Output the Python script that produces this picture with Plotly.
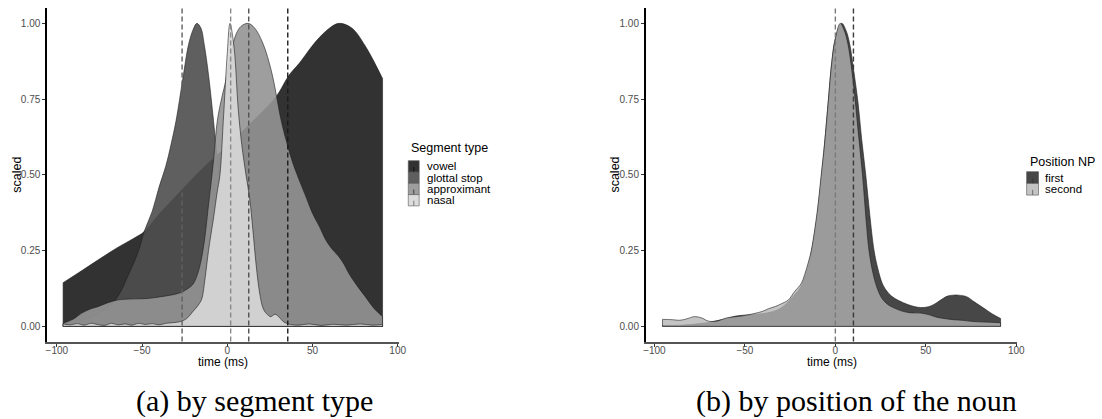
import plotly.graph_objects as go

W, H = 1102, 419

# ---------------- data: panel (a) by segment type ----------------
seg_types = ["vowel", "glottal stop", "approximant", "nasal"]

vowel_t = [-96.3, -85, -75, -65, -55, -48.8, -40, -30, -20, -10, 0, 10, 20, 28.7,
           36.4, 42.2, 51.9, 59.7, 65.5, 73, 81, 91.1]
vowel_y = [0.144, 0.185, 0.222, 0.258, 0.29, 0.312, 0.37, 0.43, 0.49, 0.545, 0.595,
           0.65, 0.705, 0.758, 0.83, 0.868, 0.94, 0.983, 1.0, 0.985, 0.925, 0.818]

glottal_t = [-96.3, -88, -80, -72, -64.3, -58, -52, -48.8, -44, -40, -36, -33, -30,
             -26, -22.7, -20, -17.8, -15.5, -13.5, -11, -8.1, -5, -2, 1, 4, 8, 12,
             20, 35, 55, 75, 91.1]
glottal_y = [0.004, 0.015, 0.03, 0.055, 0.098, 0.17, 0.25, 0.312, 0.38, 0.46, 0.53,
             0.6, 0.68, 0.82, 0.93, 0.98, 1.0, 0.985, 0.93, 0.83, 0.68, 0.5, 0.35,
             0.23, 0.14, 0.065, 0.03, 0.012, 0.005, 0.004, 0.004, 0.003]

approx_t = [-96.3, -90, -85.6, -80, -75.9, -70, -64.3, -58, -52, -46.9, -40, -33.3,
            -28, -23, -20, -17, -14, -11, -8, -5.8, -3, -1.3, 1, 3.5, 5.4, 8, 12.2,
            16, 20.9, 26, 31.6, 34.5, 38.4, 42.2, 46, 50, 54, 57.8, 61.5, 65.5, 68.5,
            71.3, 76, 81, 86, 91.1]
approx_y = [0.01, 0.025, 0.043, 0.058, 0.065, 0.078, 0.087, 0.09, 0.091, 0.092, 0.097,
            0.103, 0.11, 0.125, 0.14, 0.18, 0.26, 0.4, 0.55, 0.68, 0.76, 0.8, 0.87,
            0.934, 0.967, 0.99, 1.0, 0.985, 0.934, 0.84, 0.68, 0.615, 0.54, 0.483,
            0.43, 0.373, 0.33, 0.285, 0.255, 0.23, 0.205, 0.175, 0.135, 0.098, 0.06,
            0.032]

nasal_t = [-96.3, -92, -88, -84, -80, -76, -72, -68, -64, -60, -56, -52, -48, -44,
           -40, -36, -32, -28, -24, -20, -17, -15, -13, -11, -8, -6, -4.3, -2.3, 0,
           1.6, 4, 6.4, 8.5, 11, 13.2, 15, 17, 19, 21, 23, 25.5, 28, 30.5, 33, 37,
           42, 48, 55, 62, 70, 78, 85, 91.1]
nasal_y = [0.008, 0.005, 0.009, 0.004, 0.01, 0.006, 0.003, 0.01, 0.005, 0.008, 0.004,
           0.01, 0.006, 0.009, 0.005, 0.01, 0.012, 0.015, 0.025, 0.05, 0.07, 0.09,
           0.16, 0.25, 0.36, 0.44, 0.5, 0.68, 0.9, 1.0, 0.92, 0.72, 0.6, 0.5, 0.42,
           0.32, 0.2, 0.11, 0.06, 0.042, 0.032, 0.04, 0.03, 0.015, 0.006, 0.004,
           0.008, 0.003, 0.007, 0.004, 0.008, 0.004, 0.006]

seg_vlines = [35.5, -26.5, 12.6, 2.0]   # vowel, glottal stop, approximant, nasal

# ---------------- data: panel (b) by position of the noun ----------------
positions = ["first", "second"]

first_t = [-95.5, -90, -85, -80, -75, -70, -66, -60, -55, -50, -45, -40, -35, -31,
           -27, -24, -21, -18.8, -16, -13.3, -10, -7.8, -6, -3.8, -2, 0, 3.5, 6, 8,
           10, 12.5, 14.5, 16.8, 19, 21.4, 23.5, 25.9, 28, 31, 35, 40, 44, 47, 50,
           53, 56, 59, 62, 65.2, 68, 72.5, 77, 83.5, 87, 91.3]
first_y = [0.003, 0.003, 0.004, 0.006, 0.009, 0.013, 0.018, 0.026, 0.034, 0.037,
           0.039, 0.042, 0.048, 0.057, 0.075, 0.095, 0.115, 0.135, 0.18, 0.245, 0.37,
           0.49, 0.6, 0.75, 0.87, 0.95, 1.0, 0.975, 0.93, 0.85, 0.74, 0.62, 0.5,
           0.37, 0.25, 0.19, 0.142, 0.12, 0.1, 0.085, 0.072, 0.065, 0.062, 0.063,
           0.068, 0.078, 0.09, 0.1, 0.103, 0.103, 0.098, 0.08, 0.054, 0.04, 0.026]

second_t = [-95.5, -90, -86, -82, -78, -74, -70, -65, -60, -55, -52, -45, -40, -37,
            -33, -30, -26, -22.5, -18.8, -17, -15, -13.3, -10, -7.8, -6, -3.8, -2, 0,
            2.7, 5, 7, 10, 12.5, 15, 17, 18.6, 21, 23.5, 26, 29, 32, 36, 41, 47, 52,
            56, 61, 65, 70, 76, 83, 91.3]
second_y = [0.023, 0.022, 0.02, 0.025, 0.032, 0.028, 0.017, 0.018, 0.028, 0.032,
            0.034, 0.042, 0.05, 0.058, 0.066, 0.074, 0.087, 0.115, 0.142, 0.17, 0.21,
            0.25, 0.38, 0.5, 0.6, 0.75, 0.87, 0.95, 1.0, 0.975, 0.93, 0.8, 0.65, 0.5,
            0.35, 0.25, 0.17, 0.12, 0.09, 0.072, 0.062, 0.052, 0.045, 0.044, 0.038,
            0.03, 0.025, 0.022, 0.02, 0.016, 0.014, 0.012]

pos_vlines = [10.0, 0.0]   # first, second

x_ticks = [-100, -50, 0, 50, 100]
x_ticktext = ["\u2212100", "\u221250", "0", "50", "100"]
y_ticks = [0, 0.25, 0.5, 0.75, 1.0]
y_ticktext = ["0.00", "0.25", "0.50", "0.75", "1.00"]

# ---------------- styling ----------------
SEG_FILL = ["rgba(28,28,28,0.9)", "rgba(78,78,78,0.9)", "rgba(147,147,147,0.9)", "rgba(216,216,216,0.9)"]
SEG_VCOL = ["#1a1a1a", "#606060", "#505050", "#8a8a8a"]
POS_FILL = ["rgba(19,19,19,0.78)", "rgba(179,179,179,0.78)"]
POS_VCOL = ["#3a3a3a", "#7a7a7a"]
OUTLINE = "rgba(30,30,30,0.75)"
SANS = "Liberation Sans, Arial, sans-serif"
SERIF = "Liberation Serif, Times New Roman, serif"


def fx(p):
    return p / W


def fy(p):
    return 1 - p / H


fig = go.Figure()


def add_density(t, y, fc, xa, ya):
    fig.add_trace(go.Scatter(
        x=t, y=y, mode="lines", fill="tozeroy", fillcolor=fc,
        line=dict(color=OUTLINE, width=0.8, shape="spline", smoothing=1.0),
        xaxis=xa, yaxis=ya, showlegend=False, hoverinfo="skip"))
    fig.add_trace(go.Scatter(
        x=[t[0], t[0], t[-1], t[-1]], y=[y[0], 0, 0, y[-1]], mode="lines",
        line=dict(color=OUTLINE, width=0.8), xaxis=xa, yaxis=ya,
        showlegend=False, hoverinfo="skip"))


seg_data = [(vowel_t, vowel_y), (glottal_t, glottal_y), (approx_t, approx_y), (nasal_t, nasal_y)]
for (t, y), fc in zip(seg_data, SEG_FILL):
    add_density(t, y, fc, "x", "y")

pos_data = [(first_t, first_y), (second_t, second_y)]
for (t, y), fc in zip(pos_data, POS_FILL):
    add_density(t, y, fc, "x2", "y2")

# vertical dashed lines
for v, c in zip(seg_vlines, SEG_VCOL):
    fig.add_shape(type="line", x0=v, x1=v, xref="x", y0=0, y1=1, yref="y domain",
                  line=dict(color=c, width=1.4, dash="5px,3px"), layer="above")
for v, c in zip(pos_vlines, POS_VCOL):
    fig.add_shape(type="line", x0=v, x1=v, xref="x2", y0=0, y1=1, yref="y2 domain",
                  line=dict(color=c, width=1.4, dash="5px,3px"), layer="above")

# axes
ydom = [fy(341.5), fy(8.2)]
common_x = dict(tickvals=x_ticks, ticktext=x_ticktext, ticks="outside", ticklen=3,
                tickwidth=1, tickcolor="#333333", showline=True, linecolor="#555555",
                linewidth=2, showgrid=False, zeroline=False, ticklabelstandoff=-5,
                tickfont=dict(family=SANS, size=10, color="#4d4d4d"))
common_y = dict(tickvals=y_ticks, ticktext=y_ticktext, ticks="outside", ticklen=3,
                tickwidth=1, tickcolor="#333333", showline=True, linecolor="#000000",
                linewidth=1.5, showgrid=False, zeroline=False, range=[-0.05, 1.05],
                domain=ydom, tickfont=dict(family=SANS, size=10, color="#4d4d4d"))

fig.update_layout(
    width=W, height=H, autosize=False,
    margin=dict(l=0, r=0, t=0, b=0),
    paper_bgcolor="white", plot_bgcolor="white",
    xaxis=dict(domain=[fx(45.5), fx(400.2)], range=[-105.7, 100.5], anchor="y", **common_x),
    yaxis=dict(anchor="x", **common_y),
    xaxis2=dict(domain=[fx(649.6), fx(1024.7)], range=[-104.8, 100.6], anchor="y2", **common_x),
    yaxis2=dict(anchor="x2", **common_y),
)

ann = []
# axis titles
for cx in [222.9, 837.2]:
    ann.append(dict(text="time (ms)", x=fx(cx), y=fy(362), xref="paper", yref="paper",
                    xanchor="center", yanchor="middle", showarrow=False,
                    font=dict(family=SANS, size=12, color="black")))
for cx in [15, 618.3]:
    ann.append(dict(text="scaled", x=fx(cx), y=fy(174.9), xref="paper", yref="paper",
                    xanchor="center", yanchor="middle", showarrow=False, textangle=-90,
                    font=dict(family=SANS, size=12.5, color="black")))

# manual legends
def draw_legend(title, labels, fills, vcols, tx, ty, kx0, kx1, ky0, kh, lx):
    ann.append(dict(text=title, x=fx(tx), y=fy(ty), xref="paper", yref="paper",
                    xanchor="left", yanchor="middle", showarrow=False,
                    font=dict(family=SANS, size=12.5, color="black")))
    for i, (lab, fc, vc) in enumerate(zip(labels, fills, vcols)):
        y0 = ky0 + i * kh
        y1 = y0 + kh
        fig.add_shape(type="rect", xref="paper", yref="paper",
                      x0=fx(kx0), x1=fx(kx1), y0=fy(y1), y1=fy(y0),
                      fillcolor=fc, line=dict(color="#555555", width=0.6))
        cxk = (kx0 + kx1) / 2
        fig.add_shape(type="line", xref="paper", yref="paper",
                      x0=fx(cxk), x1=fx(cxk), y0=fy(y1), y1=fy(y0 + kh * 0.55),
                      line=dict(color=vc, width=1.2))
        ann.append(dict(text=lab, x=fx(lx), y=fy((y0 + y1) / 2), xref="paper", yref="paper",
                        xanchor="left", yanchor="middle", showarrow=False, borderpad=0,
                        font=dict(family=SANS, size=11.5, color="black")))


draw_legend("Segment type", seg_types, SEG_FILL, SEG_VCOL, 410.7, 148.3, 410, 421, 160.7, 11.3, 428.3)
draw_legend("Position NP", positions, POS_FILL, POS_VCOL, 1035, 161.7, 1034, 1046, 171.7, 11.7, 1051.7)

# captions
ann.append(dict(text="(a) by segment type", x=fx(255), y=fy(401), xref="paper", yref="paper",
                xanchor="center", yanchor="middle", showarrow=False, height=32,
                valign="middle", borderpad=0,
                font=dict(family=SERIF, size=30, color="black")))
ann.append(dict(text="(b) by position of the noun", x=fx(862), y=fy(401), xref="paper", yref="paper",
                xanchor="center", yanchor="middle", showarrow=False, height=32,
                valign="middle", borderpad=0,
                font=dict(family=SERIF, size=30, color="black")))

fig.update_layout(annotations=ann)

fig.write_html("out.html", config={"displayModeBar": False},
               post_script="document.body.style.margin='0';document.body.style.overflow='hidden';")
